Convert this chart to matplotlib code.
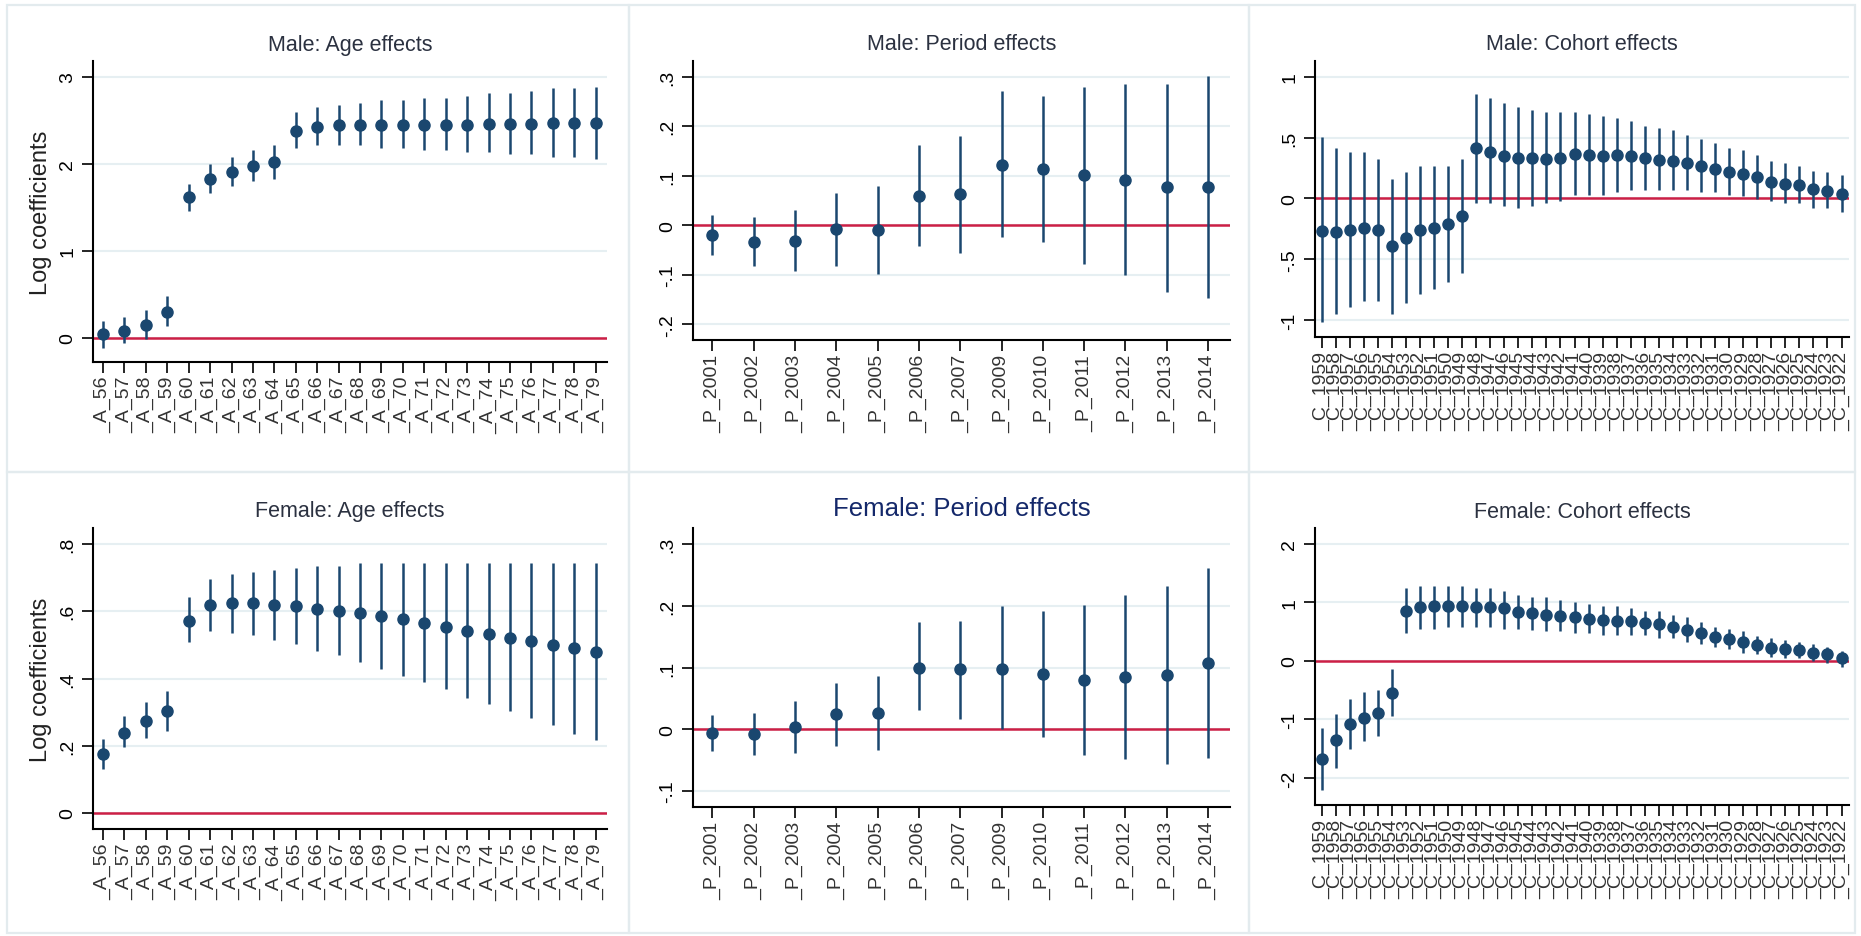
import numpy as np
import matplotlib
matplotlib.use('Agg')
import matplotlib.pyplot as plt
from matplotlib.ticker import FuncFormatter
from matplotlib.patches import Rectangle

plt.rcParams['font.family'] = ['Liberation Sans', 'DejaVu Sans']

# ---- data ----
ages = list(range(56, 80))
age_labels = ['_A_%d' % a for a in ages]

male_age = [0.05, 0.085, 0.15, 0.30, 1.62, 1.83, 1.91, 1.97, 2.02, 2.38, 2.42, 2.44,
            2.45, 2.45, 2.45, 2.45, 2.45, 2.45, 2.46, 2.46, 2.46, 2.47, 2.47, 2.47]
male_age_hi = [0.19, 0.24, 0.32, 0.48, 1.77, 2.00, 2.08, 2.16, 2.21, 2.60, 2.65, 2.68,
               2.70, 2.73, 2.73, 2.76, 2.76, 2.78, 2.81, 2.81, 2.83, 2.87, 2.87, 2.88]
male_age_lo = [-0.12, -0.06, -0.01, 0.14, 1.46, 1.67, 1.74, 1.80, 1.82, 2.18, 2.21, 2.21,
               2.21, 2.18, 2.18, 2.16, 2.16, 2.13, 2.13, 2.11, 2.11, 2.08, 2.08, 2.06]

female_age = [0.176, 0.239, 0.275, 0.303, 0.572, 0.620, 0.624, 0.624, 0.620, 0.615, 0.607, 0.602,
              0.595, 0.587, 0.577, 0.565, 0.553, 0.543, 0.533, 0.521, 0.511, 0.501, 0.490, 0.480]
female_age_hi = [0.221, 0.290, 0.330, 0.363, 0.642, 0.697, 0.710, 0.717, 0.723, 0.729, 0.736, 0.736,
                 0.743, 0.743, 0.743, 0.743, 0.743, 0.743, 0.743, 0.743, 0.743, 0.743, 0.743, 0.743]
female_age_lo = [0.132, 0.196, 0.223, 0.243, 0.510, 0.543, 0.536, 0.530, 0.516, 0.503, 0.483, 0.470,
                 0.450, 0.429, 0.409, 0.391, 0.369, 0.343, 0.323, 0.303, 0.283, 0.263, 0.236, 0.216]

years = [2001, 2002, 2003, 2004, 2005, 2006, 2007, 2009, 2010, 2011, 2012, 2013, 2014]
period_labels = ['_P_%d' % y for y in years]

male_per = [-0.020, -0.034, -0.032, -0.008, -0.009, 0.059, 0.064, 0.121, 0.113, 0.101, 0.091, 0.077, 0.077]
male_per_hi = [0.020, 0.017, 0.030, 0.066, 0.080, 0.162, 0.180, 0.271, 0.262, 0.279, 0.285, 0.285, 0.302]
male_per_lo = [-0.061, -0.083, -0.092, -0.083, -0.098, -0.042, -0.056, -0.024, -0.034, -0.079, -0.101, -0.134, -0.147]

female_per = [-0.0065, -0.0076, 0.004, 0.024, 0.026, 0.100, 0.097, 0.098, 0.090, 0.080, 0.084, 0.088, 0.107]
female_per_hi = [0.023, 0.027, 0.045, 0.075, 0.086, 0.173, 0.176, 0.199, 0.192, 0.202, 0.217, 0.232, 0.261]
female_per_lo = [-0.035, -0.042, -0.039, -0.027, -0.034, 0.031, 0.017, 0.0, -0.013, -0.042, -0.049, -0.056, -0.046]

cohorts = list(range(1959, 1921, -1))
cohort_labels = ['_C_%d' % c for c in cohorts]

male_coh = [-0.266, -0.274, -0.260, -0.244, -0.258, -0.395, -0.326, -0.260, -0.244, -0.211, -0.142,
            0.411, 0.384, 0.351, 0.329, 0.329, 0.323, 0.332, 0.364, 0.356, 0.351, 0.356, 0.351,
            0.332, 0.318, 0.310, 0.288, 0.263, 0.241, 0.219, 0.200, 0.173, 0.137, 0.118, 0.110,
            0.077, 0.063, 0.036]
male_coh_hi = [0.507, 0.411, 0.378, 0.378, 0.323, 0.159, 0.214, 0.268, 0.268, 0.268, 0.323,
               0.858, 0.822, 0.784, 0.748, 0.729, 0.712, 0.712, 0.712, 0.693, 0.674, 0.658, 0.638,
               0.597, 0.578, 0.562, 0.523, 0.488, 0.452, 0.414, 0.397, 0.359, 0.304, 0.288, 0.268,
               0.227, 0.214, 0.195]
male_coh_lo = [-1.02, -0.951, -0.896, -0.841, -0.841, -0.951, -0.860, -0.786, -0.745, -0.690, -0.616,
               -0.041, -0.041, -0.060, -0.079, -0.060, -0.041, -0.025, 0.030, 0.030, 0.030, 0.049, 0.068,
               0.068, 0.068, 0.068, 0.068, 0.049, 0.049, 0.030, 0.016, -0.005, -0.025, -0.041, -0.041,
               -0.079, -0.079, -0.115]

female_coh = [-1.683, -1.358, -1.084, -0.970, -0.896, -0.542,
              0.856, 0.913, 0.930, 0.930, 0.941, 0.924, 0.913, 0.896, 0.839, 0.816, 0.787, 0.770,
              0.742, 0.713, 0.702, 0.685, 0.685, 0.656, 0.627, 0.588, 0.531, 0.473, 0.416, 0.382,
              0.325, 0.268, 0.228, 0.200, 0.188, 0.143, 0.114, 0.057]
female_coh_hi = [-1.141, -0.913, -0.645, -0.531, -0.496, -0.143,
                 1.238, 1.284, 1.284, 1.284, 1.284, 1.238, 1.238, 1.198, 1.124, 1.084, 1.084, 1.044,
                 1.010, 0.970, 0.930, 0.930, 0.896, 0.856, 0.856, 0.782, 0.742, 0.667, 0.588, 0.553,
                 0.513, 0.428, 0.399, 0.359, 0.325, 0.285, 0.245, 0.171]
female_coh_lo = [-2.196, -1.825, -1.512, -1.369, -1.284, -0.941,
                 0.485, 0.553, 0.553, 0.588, 0.588, 0.588, 0.588, 0.553, 0.553, 0.531, 0.513, 0.513,
                 0.485, 0.485, 0.439, 0.439, 0.439, 0.439, 0.399, 0.399, 0.325, 0.285, 0.245, 0.211,
                 0.131, 0.114, 0.074, 0.057, 0.057, 0.0, -0.040, -0.097]

# ---- styling ----
W, H = 1861, 937
NAVY = '#1a476f'
ZERO = '#cc1f45'
GRID = '#e6eff2'
BORDER = '#e3ebee'


def stata_fmt(v, pos):
    s = '%g' % round(v, 4)
    if s.startswith('0.'):
        s = s[1:]
    elif s.startswith('-0.'):
        s = '-' + s[2:]
    return s


def px_axes(fig, x0, x1, y0, y1):
    return fig.add_axes([x0 / W, 1 - y1 / H, (x1 - x0) / W, (y1 - y0) / H])


fig = plt.figure(figsize=(W / 100, H / 100), dpi=100)

# panel borders
for cx0, cx1 in [(7, 629), (629, 1249), (1249, 1855)]:
    for ry0, ry1 in [(6, 473), (473, 934)]:
        fig.patches.append(Rectangle((cx0 / W, 1 - ry1 / H), (cx1 - cx0) / W, (ry1 - ry0) / H,
                                     transform=fig.transFigure, fill=False,
                                     edgecolor=BORDER, linewidth=1.6, zorder=0))

panels = [
    # box (x0, x1, y0, y1), y-limits, y-ticks, labels, est, lo, hi, title
    ((93, 607, 62, 363), (-0.276, 3.18), [0, 1, 2, 3], age_labels,
     male_age, male_age_lo, male_age_hi, 'Male: Age effects'),
    ((693, 1230, 62, 341), (-0.232, 0.332), [-0.2, -0.1, 0, 0.1, 0.2, 0.3], period_labels,
     male_per, male_per_lo, male_per_hi, 'Male: Period effects'),
    ((1315, 1849, 62, 338), (-1.14, 1.13), [-1, -0.5, 0, 0.5, 1], cohort_labels,
     male_coh, male_coh_lo, male_coh_hi, 'Male: Cohort effects'),
    ((93, 607, 529, 830), (-0.0475, 0.848), [0, 0.2, 0.4, 0.6, 0.8], age_labels,
     female_age, female_age_lo, female_age_hi, 'Female: Age effects'),
    ((693, 1230, 529, 808), (-0.126, 0.326), [-0.1, 0, 0.1, 0.2, 0.3], period_labels,
     female_per, female_per_lo, female_per_hi, 'Female: Period effects'),
    ((1315, 1849, 529, 806), (-2.46, 2.27), [-2, -1, 0, 1, 2], cohort_labels,
     female_coh, female_coh_lo, female_coh_hi, 'Female: Cohort effects'),
]

for i, (box, ylim, yticks, labels, est, lo, hi, title) in enumerate(panels):
    ax = px_axes(fig, *box)
    n = len(labels)
    x = np.arange(n)
    ax.set_xlim(-0.47, n - 1 + 0.53)
    ax.set_ylim(*ylim)
    ax.set_yticks(yticks)
    ax.yaxis.set_major_formatter(FuncFormatter(stata_fmt))
    ax.grid(axis='y', color=GRID, linewidth=1.5, zorder=0)
    ax.set_axisbelow(True)
    ax.axhline(0, color=ZERO, linewidth=1.8, zorder=1)
    ax.vlines(x, lo, hi, color=NAVY, linewidth=1.8, zorder=2)
    ax.plot(x, est, 'o', color=NAVY, markersize=8, zorder=3)
    ax.set_xticks(x)
    ax.set_xticklabels(labels, rotation=90, fontsize=14, color='#333333')
    for s in ['top', 'right']:
        ax.spines[s].set_visible(False)
    for s in ['left', 'bottom']:
        ax.spines[s].set_linewidth(1.5)
    ax.tick_params(axis='both', length=8, width=1.2, direction='out')
    ax.tick_params(axis='x', pad=2)
    ax.tick_params(axis='y', pad=4, labelsize=14)
    for t in ax.get_yticklabels():
        t.set_rotation(90)
        t.set_va('center')

    cx = (box[0] + box[1]) / 2 / W
    if title == 'Female: Period effects':
        fig.text(cx, 1 - 509 / H, title, ha='center', va='center', fontsize=18.5, color='#14286a')
    else:
        ty = 45 if box[2] < 100 else 512
        fig.text(cx, 1 - ty / H, title, ha='center', va='center', fontsize=15.5, color='#2b3140')

    if box[0] < 100:
        fig.text(41 / W, 1 - (box[2] + box[3]) / 2 / H, 'Log coefficients', rotation=90,
                 ha='center', va='center', fontsize=17, color='#222222')

fig.savefig('out.png', dpi=100, facecolor='white')
